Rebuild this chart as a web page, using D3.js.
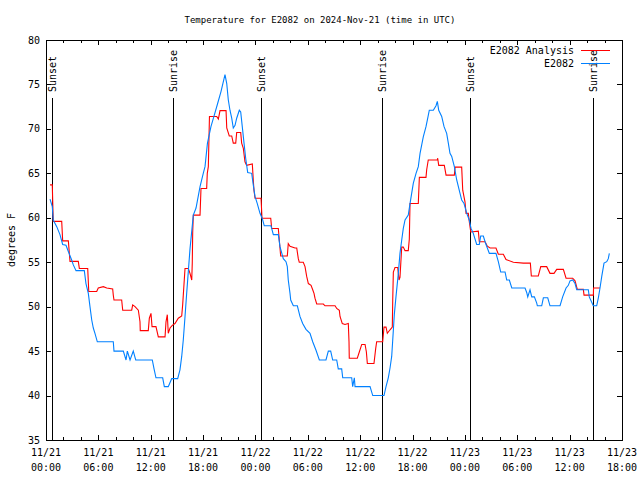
<!DOCTYPE html>
<html><head><meta charset="utf-8">
<script src="https://cdn.jsdelivr.net/npm/d3@7/dist/d3.min.js"></script>
<style>
body{margin:0;background:#fff}
svg text{font-family:"DejaVu Sans Mono","Liberation Mono",monospace;font-size:10px;fill:#000}
</style>
</head><body>
<svg id="chart" width="640" height="480"></svg>
<script>
// ---------- data ----------
const chartTitle = "Temperature for E2082 on 2024-Nov-21 (time in UTC)";
const yLabel = "degrees F";
const seriesNames = ["E2082 Analysis", "E2082"];
const seriesColors = ["#ff0000", "#0080ff"];

const xTickHours = [0, 6, 12, 18, 24, 30, 36, 42, 48, 54, 60, 66];
const xTickDates = ["11/21","11/21","11/21","11/21","11/22","11/22","11/22","11/22","11/23","11/23","11/23","11/23"];
const xTickTimes = ["00:00","06:00","12:00","18:00","00:00","06:00","12:00","18:00","00:00","06:00","12:00","18:00"];
const yTicks = [35, 40, 45, 50, 55, 60, 65, 70, 75, 80];

const eventNames = ["Sunset", "Sunrise", "Sunset", "Sunrise", "Sunset", "Sunrise"];
const eventHours = [0.72, 14.59, 24.67, 38.54, 48.62, 62.64];

// hours since 2024-11-21 00:00 UTC
const analysisHours = [0.46,0.72,0.83,1.8,1.91,2.56,2.75,3.7,3.82,4.78,4.9,5.81,5.99,6.57,6.96,7.64,7.71,7.79,8.67,8.79,9.82,9.93,10.2,10.58,10.77,10.8,11.72,11.84,12.03,12.15,12.6,12.87,13.64,13.75,13.9,14.01,14.21,14.47,14.78,15.16,15.55,15.66,15.81,15.93,16.31,16.5,16.7,16.76,16.81,16.88,17.65,17.76,18.41,18.48,18.6,18.73,19.56,19.75,19.94,20.63,20.71,21.0,21.28,21.46,21.74,21.85,22.31,22.42,22.61,22.8,22.99,23.64,23.75,23.83,23.95,24.64,24.75,25.75,25.86,26.62,26.81,26.89,27.65,27.76,27.96,28.53,28.73,28.91,29.02,29.48,29.68,29.87,30.06,30.37,30.56,30.71,30.82,31.02,31.78,31.97,33.12,33.31,33.61,33.69,33.95,34.26,34.64,34.72,34.75,35.67,35.9,36.18,36.56,36.71,36.82,37.58,37.78,37.89,38.58,38.73,38.96,39.11,39.42,39.68,39.73,39.8,39.99,40.3,40.45,40.56,40.76,40.94,41.14,41.51,41.63,41.71,42.66,42.78,43.54,43.62,43.8,44.84,44.88,45.0,45.64,45.84,46.79,46.87,47.63,47.75,48.01,48.13,48.39,48.5,48.67,49.54,49.65,50.31,50.57,50.88,51.56,51.83,52.4,52.71,53.55,54.7,55.5,55.61,56.41,56.69,57.37,57.75,58.21,58.52,59.28,59.59,60.35,60.62,60.88,61.57,61.65,62.72,62.74,63.48];
const analysisTemps = [63.7,63.7,59.6,59.6,57.4,57.4,55.1,55.1,54.3,54.3,51.7,51.7,52.1,52.25,52.1,52.0,51.3,50.75,50.75,49.6,49.6,50.2,50.0,49.6,48.3,47.3,47.3,48.7,49.25,47.75,47.75,46.6,46.6,48.3,49.1,47.0,47.6,47.9,48.1,48.7,48.95,50.2,52.5,54.3,54.3,53.75,53.0,54.9,58.4,60.3,60.3,63.3,63.3,65.0,65.75,71.4,71.4,71.1,72.05,72.05,70.1,69.2,69.2,68.4,68.4,69.6,69.6,68.4,67.8,66.3,65.9,66.05,64.25,63.1,62.2,62.2,59.95,59.95,58.8,58.8,56.6,55.7,55.7,57.1,56.8,56.6,56.6,55.4,55.0,55.0,54.5,53.4,52.6,52.4,51.9,51.5,50.95,50.3,50.3,50.1,50.1,49.8,49.6,48.9,48.1,48.0,48.1,46.05,44.2,44.2,44.9,45.75,45.75,44.9,43.6,43.6,45.3,46.05,46.05,47.7,47.7,47.0,47.4,47.7,50.75,53.9,54.4,54.4,53.0,53.3,56.7,56.7,56.3,56.3,57.6,61.6,61.6,64.55,64.55,65.4,66.5,66.5,66.7,65.9,65.9,64.8,64.8,65.7,65.7,63.1,61.8,60.5,60.5,59.6,58.4,58.5,57.3,57.3,56.8,56.6,56.6,55.9,55.9,55.3,55.0,54.9,54.9,53.45,53.45,54.5,54.5,53.75,53.75,54.2,54.2,53.2,53.2,52.9,51.95,51.95,51.3,51.3,52.1,52.1];

const stationHours = [0.46,0.72,0.83,1.23,1.6,1.91,2.29,2.56,2.94,3.13,3.44,4.39,4.58,4.85,5.04,5.24,5.42,5.61,5.88,7.71,7.79,8.86,9.17,9.32,9.63,10.0,10.28,12.18,12.38,12.6,13.37,13.56,14.01,14.4,15.09,15.35,15.55,15.73,15.93,16.12,16.31,16.5,16.7,16.88,17.19,17.42,17.65,18.02,18.22,18.5,18.9,19.3,19.65,20.05,20.51,20.71,20.89,21.08,21.28,21.46,21.66,21.85,22.15,22.31,22.49,22.69,22.88,23.11,23.57,23.75,23.95,24.21,24.52,24.79,25.01,25.78,26.05,26.62,26.81,27.19,27.5,27.65,27.76,27.96,28.04,28.34,28.8,29.1,29.41,29.79,30.25,30.56,30.94,31.32,32.08,32.35,32.62,32.85,33.31,33.49,33.88,34.0,35.03,35.14,35.33,35.41,37.13,37.44,38.73,38.96,39.22,39.42,39.61,39.73,39.91,40.1,40.37,40.56,40.76,40.94,41.14,41.51,41.71,41.9,42.09,42.4,42.66,42.86,43.05,43.23,43.54,43.74,43.92,44.38,44.69,44.84,45.0,45.34,45.61,45.91,46.1,46.29,46.49,46.79,47.06,47.44,47.63,47.9,48.21,48.5,48.7,48.96,49.35,49.65,49.81,50.11,50.31,50.42,50.8,51.56,51.83,52.1,52.6,52.79,53.09,53.37,54.89,55.08,55.2,55.46,55.66,55.96,56.23,56.3,56.8,56.99,57.49,57.75,58.9,59.2,59.59,59.85,60.04,60.35,60.62,60.81,62.14,62.25,62.71,63.1,63.29,63.48,63.68,63.94,64.25,64.43,64.55];
const stationTemps = [62.1,61.25,59.75,59.0,58.1,57.0,56.9,56.2,55.25,54.7,54.05,54.05,52.6,51.5,50.0,48.5,47.6,47.0,46.05,46.05,45.0,45.0,44.0,45.0,44.0,45.0,44.0,44.0,43.0,42.0,42.0,41.0,41.0,41.9,41.9,42.9,44.4,46.25,48.9,51.5,54.0,56.5,58.5,60.3,61.1,62.3,63.5,65.0,65.75,68.4,70.25,71.6,72.8,74.2,76.1,75.1,73.25,72.1,71.2,70.1,70.4,71.2,72.1,71.9,70.25,68.4,66.7,65.1,65.0,63.7,62.4,61.6,60.5,59.9,59.1,59.1,58.1,58.1,56.75,55.4,55.06,54.5,53.0,51.5,50.75,50.1,50.1,48.9,48.1,47.45,47.0,46.05,45.1,44.0,44.0,45.0,45.0,44.0,44.0,43.0,43.0,42.0,42.0,41.0,42.0,41.0,41.0,40.0,40.0,41.0,42.0,43.1,44.4,46.25,49.1,51.1,53.75,56.0,57.5,58.8,59.75,60.3,61.6,62.75,63.9,65.0,65.75,67.25,68.2,69.1,70.25,71.2,72.1,72.1,72.6,73.1,72.1,71.4,70.25,69.5,68.4,67.25,66.9,65.75,64.25,62.75,62.0,61.6,60.5,59.75,58.8,58.25,57.0,57.0,57.95,57.95,57.3,57.0,56.0,56.0,55.06,53.9,53.9,53.0,53.0,52.1,52.1,51.6,51.1,51.9,51.1,51.1,50.4,50.1,50.1,51.0,51.0,50.1,50.1,51.1,52.1,52.4,52.9,53.0,52.6,51.9,51.9,51.1,50.1,50.1,51.0,52.1,53.4,54.9,55.06,55.4,56.0];

// ---------- layout ----------
const L = 46, R = 622, T = 40, B = 440;
const svg = d3.select("#chart");
svg.append("rect").attr("width", 640).attr("height", 480).attr("fill", "#fff");

const x = d3.scaleLinear().domain([0, 66]).range([L, R]);
const y = d3.scaleLinear().domain([35, 80]).range([B, T]);

// title
svg.append("text").attr("x", 320).attr("y", 23).attr("text-anchor", "middle")
  .style("font-size", "9px").text(chartTitle);
// y label
svg.append("text").attr("transform", `translate(11,${(T + B) / 2}) rotate(-90)`)
  .attr("dy", "0.35em").attr("text-anchor", "middle").text(yLabel);

// axes
const minorHours = d3.range(0, 67, 2).filter(h => h % 6 !== 0);
const g = svg.append("g").attr("shape-rendering", "crispEdges");

const xb = g.append("g").attr("transform", `translate(0,${B})`)
  .call(d3.axisBottom(x).tickValues(xTickHours).tickSize(-5).tickFormat(""));
const xbm = g.append("g").attr("transform", `translate(0,${B})`)
  .call(d3.axisBottom(x).tickValues(minorHours).tickSize(-3).tickFormat(""));
const xt = g.append("g").attr("transform", `translate(0,${T})`)
  .call(d3.axisTop(x).tickValues(xTickHours).tickSize(-5).tickFormat(""));
const xtm = g.append("g").attr("transform", `translate(0,${T})`)
  .call(d3.axisTop(x).tickValues(minorHours).tickSize(-3).tickFormat(""));
const yl = g.append("g").attr("transform", `translate(${L},0)`)
  .call(d3.axisLeft(y).tickValues(yTicks).tickSize(-5).tickFormat(""));
const yr = g.append("g").attr("transform", `translate(${R},0)`)
  .call(d3.axisRight(y).tickValues(yTicks).tickSize(-5).tickFormat(""));
[xb, xbm, xt, xtm, yl, yr].forEach(a => {
  a.selectAll(".domain").remove();
  a.selectAll("line").attr("stroke", "#000");
});

// tick labels
xTickHours.forEach((h, i) => {
  svg.append("text").attr("x", x(h)).attr("y", 456).attr("text-anchor", "middle").text(xTickDates[i]);
  svg.append("text").attr("x", x(h)).attr("y", 471).attr("text-anchor", "middle").text(xTickTimes[i]);
});
yTicks.forEach(v => {
  svg.append("text").attr("x", 40).attr("y", y(v)).attr("dy", "0.35em")
    .attr("text-anchor", "end").text(v);
});

// events
eventHours.forEach((h, i) => {
  const xx = Math.round(x(h)) + 0.5;
  svg.append("line").attr("x1", xx).attr("x2", xx).attr("y1", 98).attr("y2", B)
    .attr("stroke", "#000").attr("stroke-width", 1).attr("shape-rendering", "crispEdges");
  svg.append("text").attr("transform", `translate(${xx},92) rotate(-90)`)
    .attr("dy", "0.35em").attr("text-anchor", "start").text(eventNames[i]);
});

// series
const line = d3.line().x(d => x(d[0])).y(d => y(d[1]));
const analysis = d3.zip(analysisHours, analysisTemps);
const station = d3.zip(stationHours, stationTemps);
svg.append("path").datum(analysis).attr("d", line).attr("fill", "none")
  .attr("stroke", seriesColors[0]).attr("stroke-width", 1.1);
svg.append("path").datum(station).attr("d", line).attr("fill", "none")
  .attr("stroke", seriesColors[1]).attr("stroke-width", 1.1);

// border
svg.append("rect").attr("x", L + 0.5).attr("y", T + 0.5).attr("width", R - L).attr("height", B - T)
  .attr("fill", "none").attr("stroke", "#000").attr("shape-rendering", "crispEdges");

// legend
seriesNames.forEach((n, i) => {
  const yy = 50 + i * 13;
  svg.append("text").attr("x", 574).attr("y", yy).attr("dy", "0.35em").attr("text-anchor", "end").text(n);
  svg.append("line").attr("x1", 581).attr("x2", 610).attr("y1", yy + 0.5).attr("y2", yy + 0.5)
    .attr("stroke", seriesColors[i]).attr("shape-rendering", "crispEdges");
});
</script>
</body></html>
